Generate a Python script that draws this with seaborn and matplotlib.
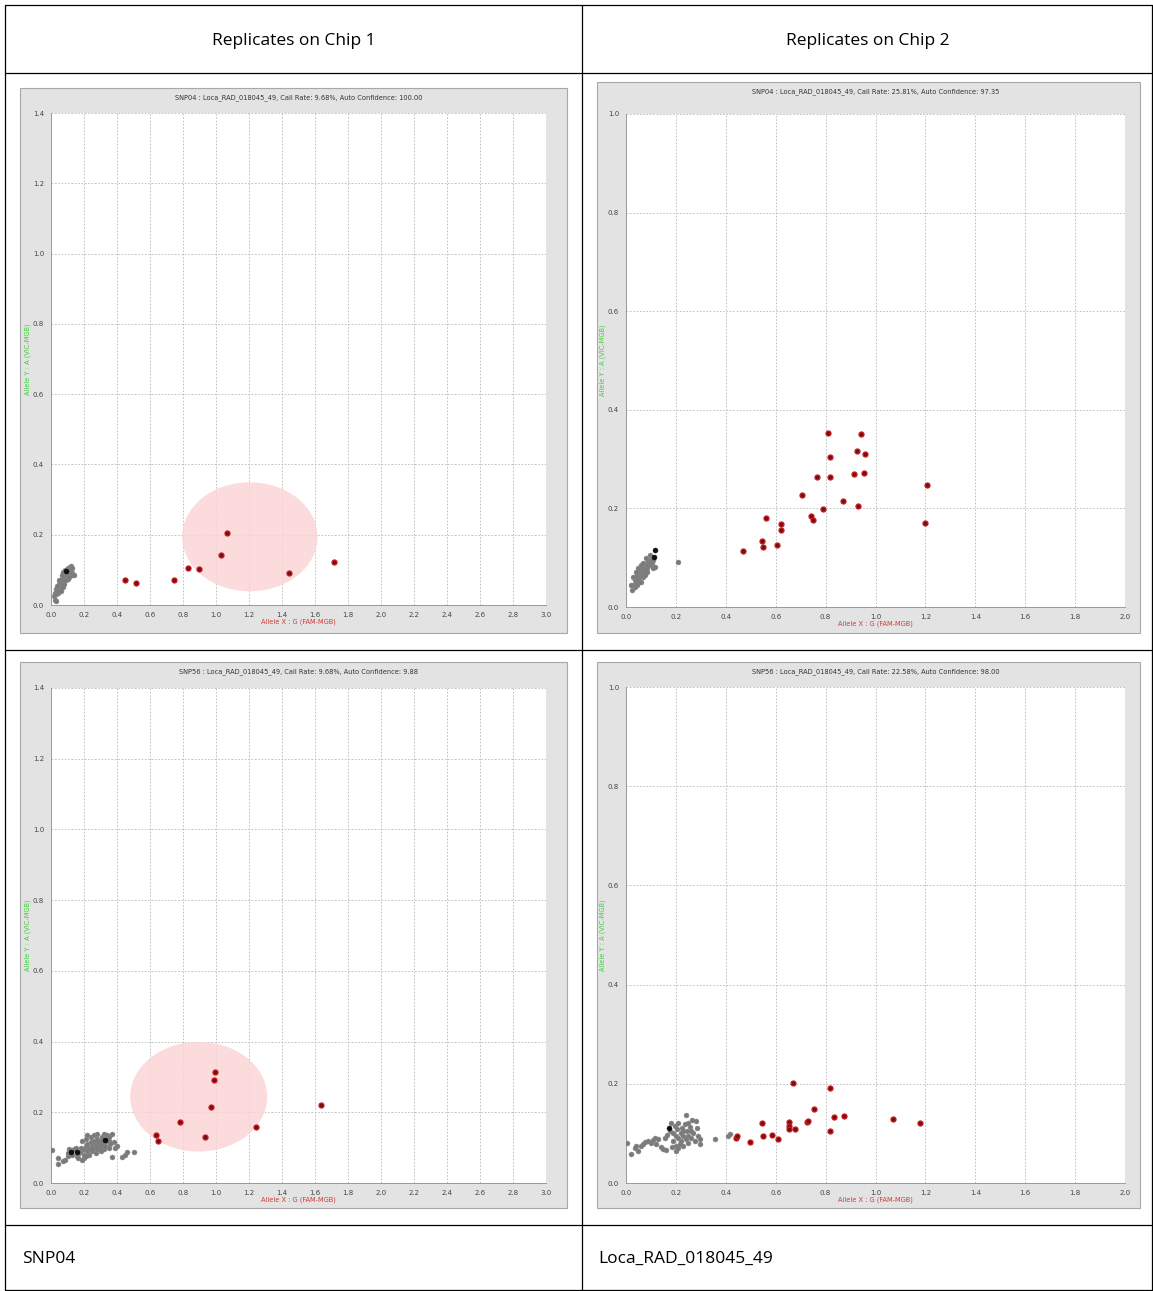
import matplotlib
matplotlib.use("Agg")
import matplotlib.pyplot as plt
import seaborn as sns
import pandas as pd
import numpy as np
from matplotlib.patches import Ellipse, Rectangle
from matplotlib.lines import Line2D

# ---- data ----
titles = [
    "SNP04 : Loca_RAD_018045_49, Call Rate: 9.68%, Auto Confidence: 100.00",
    "SNP04 : Loca_RAD_018045_49, Call Rate: 25.81%, Auto Confidence: 97.35",
    "SNP56 : Loca_RAD_018045_49, Call Rate: 9.68%, Auto Confidence: 9.88",
    "SNP56 : Loca_RAD_018045_49, Call Rate: 22.58%, Auto Confidence: 98.00",
]
header_labels = ["Replicates on Chip 1", "Replicates on Chip 2"]
footer_labels = ["SNP04", "Loca_RAD_018045_49"]
x_label = "Allele X : G (FAM-MGB)"
y_label = "Allele Y : A (VIC-MGB)"

x_max = [3.0, 2.0, 3.0, 2.0]
y_max = [1.4, 1.0, 1.4, 1.0]

# panel 1: chip 1, SNP04
p1_red_x = [0.447, 0.515, 0.743, 0.833, 0.894, 1.031, 1.069, 1.44, 1.713]
p1_red_y = [0.070, 0.062, 0.072, 0.105, 0.102, 0.142, 0.204, 0.092, 0.122]
p1_gray_x = [0.02, 0.025, 0.03, 0.03, 0.035, 0.04, 0.04, 0.045, 0.05, 0.05, 0.055, 0.055,
             0.06, 0.06, 0.065, 0.065, 0.07, 0.07, 0.075, 0.075, 0.08, 0.08, 0.085, 0.09,
             0.095, 0.1, 0.1, 0.105, 0.11, 0.115, 0.12, 0.125, 0.13, 0.14, 0.045, 0.035,
             0.05, 0.06, 0.07, 0.08, 0.09, 0.1, 0.11, 0.025, 0.03, 0.065, 0.075, 0.085,
             0.12, 0.13]
p1_gray_y = [0.025, 0.035, 0.03, 0.045, 0.04, 0.05, 0.035, 0.055, 0.045, 0.06, 0.05, 0.065,
             0.055, 0.07, 0.06, 0.075, 0.065, 0.08, 0.07, 0.085, 0.075, 0.09, 0.08, 0.085,
             0.09, 0.1, 0.085, 0.105, 0.095, 0.108, 0.1, 0.09, 0.085, 0.085, 0.04, 0.055,
             0.07, 0.04, 0.05, 0.06, 0.07, 0.075, 0.08, 0.015, 0.01, 0.085, 0.095, 0.1,
             0.11, 0.105]
p1_black_x = [0.09]
p1_black_y = [0.097]

# panel 2: chip 2, SNP04
p2_red_x = [0.469, 0.547, 0.548, 0.561, 0.607, 0.62, 0.62, 0.705, 0.741, 0.748, 0.764, 0.788,
            0.811, 0.817, 0.816, 0.871, 0.912, 0.925, 0.931, 0.943, 0.956, 0.955, 1.199, 1.205]
p2_red_y = [0.114, 0.134, 0.121, 0.180, 0.125, 0.169, 0.157, 0.228, 0.185, 0.176, 0.263, 0.198,
            0.353, 0.304, 0.264, 0.215, 0.270, 0.316, 0.205, 0.350, 0.311, 0.271, 0.170, 0.248]
p2_gray_x = [0.025, 0.03, 0.035, 0.035, 0.04, 0.04, 0.045, 0.045, 0.05, 0.05, 0.055, 0.055,
             0.06, 0.06, 0.065, 0.065, 0.07, 0.07, 0.075, 0.075, 0.08, 0.08, 0.085, 0.085,
             0.09, 0.09, 0.095, 0.095, 0.1, 0.1, 0.105, 0.11, 0.115, 0.11, 0.04, 0.05,
             0.06, 0.045, 0.055, 0.065, 0.075, 0.085, 0.03, 0.02, 0.07, 0.08, 0.209]
p2_gray_y = [0.035, 0.045, 0.04, 0.055, 0.05, 0.06, 0.045, 0.065, 0.055, 0.07, 0.06, 0.075,
             0.065, 0.05, 0.07, 0.08, 0.06, 0.075, 0.08, 0.07, 0.085, 0.075, 0.09, 0.08,
             0.085, 0.095, 0.09, 0.105, 0.095, 0.085, 0.09, 0.08, 0.082, 0.095, 0.07, 0.08,
             0.085, 0.055, 0.05, 0.065, 0.065, 0.07, 0.06, 0.045, 0.09, 0.1, 0.091]
p2_black_x = [0.117, 0.112]
p2_black_y = [0.116, 0.102]

# panel 3: chip 1, SNP56
p3_red_x = [0.634, 0.646, 0.78, 0.936, 0.970, 0.986, 0.996, 1.241, 1.637]
p3_red_y = [0.135, 0.119, 0.173, 0.130, 0.216, 0.290, 0.314, 0.157, 0.222]
p3_gray_x = [0.005, 0.04, 0.045, 0.07, 0.085, 0.1, 0.1, 0.11, 0.13, 0.14, 0.15, 0.16, 0.165,
             0.17, 0.18, 0.18, 0.19, 0.2, 0.2, 0.21, 0.215, 0.22, 0.22, 0.23, 0.23, 0.24,
             0.24, 0.25, 0.25, 0.26, 0.26, 0.27, 0.27, 0.28, 0.28, 0.29, 0.29, 0.3, 0.3,
             0.31, 0.31, 0.32, 0.32, 0.33, 0.33, 0.34, 0.34, 0.35, 0.35, 0.36, 0.37, 0.37,
             0.38, 0.39, 0.4, 0.43, 0.45, 0.46, 0.5, 0.2, 0.19, 0.21, 0.27, 0.3, 0.24, 0.26,
             0.22, 0.35, 0.28]
p3_gray_y = [0.092, 0.07, 0.055, 0.062, 0.065, 0.075, 0.085, 0.095, 0.08, 0.095, 0.1, 0.075,
             0.07, 0.085, 0.09, 0.1, 0.12, 0.08, 0.095, 0.105, 0.125, 0.09, 0.11, 0.08, 0.1,
             0.115, 0.13, 0.09, 0.105, 0.12, 0.1, 0.11, 0.135, 0.095, 0.125, 0.105, 0.115,
             0.12, 0.1, 0.13, 0.11, 0.14, 0.095, 0.115, 0.105, 0.125, 0.135, 0.1, 0.12, 0.11,
             0.14, 0.073, 0.115, 0.1, 0.105, 0.073, 0.08, 0.088, 0.087, 0.07, 0.065, 0.075,
             0.085, 0.09, 0.095, 0.135, 0.135, 0.13, 0.14]
p3_black_x = [0.12, 0.155, 0.325]
p3_black_y = [0.087, 0.087, 0.123]

# panel 4: chip 2, SNP56
p4_red_x = [0.439, 0.444, 0.496, 0.546, 0.551, 0.585, 0.609, 0.668, 0.653, 0.653, 0.654,
            0.677, 0.726, 0.729, 0.753, 0.816, 0.819, 0.833, 0.875, 1.070, 1.177]
p4_red_y = [0.091, 0.094, 0.083, 0.121, 0.094, 0.097, 0.089, 0.201, 0.122, 0.114, 0.108,
            0.109, 0.122, 0.124, 0.150, 0.191, 0.105, 0.134, 0.136, 0.130, 0.120]
p4_gray_x = [0.003, 0.02, 0.035, 0.04, 0.05, 0.06, 0.07, 0.075, 0.09, 0.1, 0.11, 0.115, 0.12,
             0.13, 0.14, 0.15, 0.16, 0.155, 0.165, 0.175, 0.18, 0.185, 0.19, 0.19, 0.195,
             0.2, 0.2, 0.205, 0.21, 0.21, 0.215, 0.22, 0.22, 0.225, 0.23, 0.23, 0.235, 0.24,
             0.24, 0.245, 0.25, 0.25, 0.255, 0.26, 0.265, 0.27, 0.275, 0.28, 0.285, 0.29,
             0.297, 0.297, 0.357, 0.407, 0.417, 0.2, 0.21, 0.23, 0.25, 0.26]
p4_gray_y = [0.081, 0.059, 0.07, 0.075, 0.064, 0.075, 0.078, 0.082, 0.084, 0.08, 0.087, 0.09,
             0.078, 0.089, 0.072, 0.068, 0.066, 0.091, 0.097, 0.105, 0.12, 0.072, 0.085, 0.1,
             0.115, 0.075, 0.095, 0.108, 0.09, 0.12, 0.078, 0.1, 0.085, 0.11, 0.095, 0.075,
             0.118, 0.138, 0.088, 0.104, 0.095, 0.08, 0.112, 0.09, 0.128, 0.1, 0.085, 0.126,
             0.111, 0.095, 0.089, 0.079, 0.089, 0.095, 0.099, 0.065, 0.07, 0.105, 0.12, 0.105]
p4_black_x = [0.173]
p4_black_y = [0.111]

# cluster ellipses (chip 1 only): centre x, centre y, width, height in data units
ellipse_1 = (1.205, 0.194, 0.82, 0.31)
ellipse_3 = (0.895, 0.244, 0.83, 0.31)

panels = [
    (p1_gray_x, p1_gray_y, p1_red_x, p1_red_y, p1_black_x, p1_black_y, ellipse_1),
    (p2_gray_x, p2_gray_y, p2_red_x, p2_red_y, p2_black_x, p2_black_y, None),
    (p3_gray_x, p3_gray_y, p3_red_x, p3_red_y, p3_black_x, p3_black_y, ellipse_3),
    (p4_gray_x, p4_gray_y, p4_red_x, p4_red_y, p4_black_x, p4_black_y, None),
]

# ---- layout (pixels) ----
W, H = 1153, 1291
# grey frame box (left, top, right, bottom) and axes box
frames = [(20, 88, 567, 633), (597, 82, 1140, 633), (20, 662, 567, 1208), (597, 662, 1140, 1208)]
axboxes = [(51, 113, 546, 605), (626, 114, 1125, 607), (51, 688, 546, 1183), (626, 687, 1125, 1183)]

sns.set_style("white")
plt.rcParams['font.family'] = ['DejaVu Sans']

fig = plt.figure(figsize=(W / 100, H / 100), dpi=100)
fig.patch.set_facecolor("white")


def fx(px):
    return px / W


def fy(py):
    return 1 - py / H


# table lines
line_kw = dict(color="black", linewidth=0.9, transform=fig.transFigure)
for yy in [5, 73, 650, 1225, 1290]:
    fig.add_artist(Line2D([fx(5), fx(1152)], [fy(yy), fy(yy)], **line_kw))
for xx in [5, 582, 1152]:
    fig.add_artist(Line2D([fx(xx), fx(xx)], [fy(5), fy(1290)], **line_kw))

hfont = ['Open Sans', 'DejaVu Sans']
hkw = dict(va="center", fontsize=12.5, family=hfont, color="black")
fig.text(fx(294), fy(41), header_labels[0], ha="center", **hkw)
fig.text(fx(868), fy(41), header_labels[1], ha="center", **hkw)
fig.text(fx(22), fy(1259), footer_labels[0], ha="left", **hkw)
fig.text(fx(598), fy(1259), footer_labels[1], ha="left", **hkw)

palette = {"gray": "#7a7a7a", "red": "#c41c22", "black": "#101010"}

for i, (gx, gy, rx, ry, bx, by, ell) in enumerate(panels):
    l, t, r, b = frames[i]
    fig.add_artist(Rectangle((fx(l), fy(b)), fx(r - l), (b - t) / H, transform=fig.transFigure,
                             facecolor="#e3e3e3", edgecolor="#a8a8a8", linewidth=0.8, zorder=0))
    al, at, ar, ab = axboxes[i]
    ax = fig.add_axes([fx(al), fy(ab), fx(ar - al), (ab - at) / H])
    ax.set_facecolor("white")

    df = pd.DataFrame({
        "x": list(gx) + list(rx) + list(bx),
        "y": list(gy) + list(ry) + list(by),
        "call": ["gray"] * len(gx) + ["red"] * len(rx) + ["black"] * len(bx),
    })

    if ell is not None:
        ax.add_patch(Ellipse((ell[0], ell[1]), ell[2], ell[3], facecolor="#fbd5d5",
                             edgecolor="none", alpha=0.85, zorder=1))

    sns.scatterplot(data=df[df.call == "gray"], x="x", y="y", color=palette["gray"], s=13,
                    edgecolor="#8a8a8a", linewidth=0.3, ax=ax, zorder=3, legend=False)
    sns.scatterplot(data=df[df.call == "black"], x="x", y="y", color=palette["black"], s=13,
                    edgecolor="black", linewidth=0.3, ax=ax, zorder=4, legend=False)
    sns.scatterplot(data=df[df.call == "red"], x="x", y="y", color="#7a0c10", s=13,
                    edgecolor=palette["red"], linewidth=0.9, ax=ax, zorder=4, legend=False)

    ax.set_xlim(0, x_max[i])
    ax.set_ylim(0, y_max[i])
    ax.set_xticks(np.arange(0, x_max[i] + 0.01, 0.2))
    ax.set_yticks(np.arange(0, y_max[i] + 0.01, 0.2))
    ax.xaxis.set_major_formatter(matplotlib.ticker.FormatStrFormatter("%.1f"))
    ax.yaxis.set_major_formatter(matplotlib.ticker.FormatStrFormatter("%.1f"))
    ax.grid(True, color="#b8b8b8", linestyle=(0, (2, 2)), linewidth=0.6)
    ax.set_axisbelow(True)
    ax.tick_params(axis="both", labelsize=5, labelcolor="#444444", color="#888888", length=3,
                   width=0.5, pad=2, direction="out")
    for side in ["top", "right"]:
        ax.spines[side].set_visible(False)
    for side in ["left", "bottom"]:
        ax.spines[side].set_color("#9a9a9a")
        ax.spines[side].set_linewidth(0.7)

    ax.set_xlabel(x_label, fontsize=4.8, color="#d23a3a", labelpad=-3)
    ax.set_ylabel(y_label, fontsize=4.8, color="#3ccf3c", labelpad=3)
    ax.xaxis.set_label_coords(0.5, -0.028)
    ax.yaxis.set_label_coords(-0.04, 0.5)

    fig.text(fx((al + ar) / 2), fy(t + 10), titles[i], ha="center", va="center", fontsize=4.8,
             color="#333333")

fig.savefig("out.png", dpi=100)
